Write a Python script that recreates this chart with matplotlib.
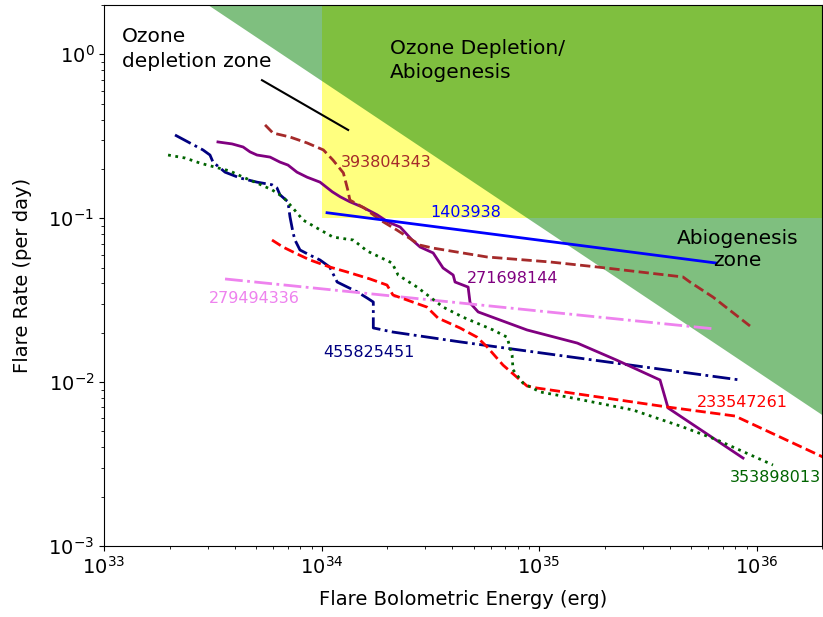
import numpy as np
import matplotlib.pyplot as plt

# Cumulative flare frequency distributions (energy in erg, rate per day)
e_455825451 = [2.12e33, 2.48e33, 2.85e33, 3.07e33, 3.17e33, 3.60e33, 4.22e33, 5.05e33,
               5.92e33, 6.24e33, 6.44e33, 7.01e33, 7.16e33, 7.40e33, 7.55e33, 7.96e33,
               8.85e33, 9.84e33, 1.09e34, 1.18e34, 1.46e34, 1.62e34, 1.73e34, 1.73e34,
               2.13e34, 4.33e34, 1.01e35, 8.40e35]
r_455825451 = [0.322, 0.288, 0.261, 0.243, 0.220, 0.191, 0.176, 0.166,
               0.160, 0.153, 0.139, 0.126, 0.102, 0.0813, 0.0736, 0.0640,
               0.0595, 0.0556, 0.0504, 0.0408, 0.0355, 0.0326, 0.0308, 0.0214,
               0.0202, 0.0176, 0.0151, 0.0103]

e_271698144 = [3.34e33, 3.88e33, 4.36e33, 4.69e33, 5.05e33, 5.80e33, 6.44e33, 7.01e33,
               7.71e33, 8.58e33, 9.84e33, 1.12e34, 1.22e34, 1.35e34, 1.54e34, 1.80e34,
               2.02e34, 2.30e34, 2.61e34, 2.84e34, 3.26e34, 3.62e34, 4.03e34, 4.11e34,
               4.72e34, 4.82e34, 5.25e34, 8.81e34, 1.50e35, 2.28e35, 3.60e35, 3.92e35,
               8.67e35]
r_271698144 = [0.292, 0.284, 0.272, 0.254, 0.243, 0.236, 0.220, 0.211,
               0.191, 0.178, 0.166, 0.145, 0.135, 0.126, 0.117, 0.105,
               0.0949, 0.0883, 0.0736, 0.0667, 0.0614, 0.0497, 0.0450, 0.0408,
               0.0380, 0.0304, 0.0268, 0.0208, 0.0173, 0.0136, 0.0103, 0.00695,
               0.00344]

e_393804343 = [5.50e33, 5.98e33, 7.16e33, 8.58e33, 1.02e34, 1.13e34, 1.26e34, 1.32e34,
               1.35e34, 1.58e34, 1.86e34, 2.22e34, 2.84e34, 3.26e34, 5.77e34, 1.12e35,
               1.85e35, 4.59e35, 4.94e35, 6.31e35, 9.33e35]
r_393804343 = [0.371, 0.331, 0.313, 0.288, 0.261, 0.226, 0.189, 0.149,
               0.129, 0.115, 0.0975, 0.0847, 0.0685, 0.0657, 0.0580, 0.0541,
               0.0504, 0.0438, 0.0408, 0.0330, 0.0220]

e_1403938 = [1.06e34, 6.51e35]
r_1403938 = [0.108, 0.0533]

e_279494336 = [3.60e33, 6.44e35]
r_279494336 = [0.0426, 0.0211]

e_233547261 = [5.92e33, 6.65e33, 7.55e33, 8.85e33, 1.09e34, 1.31e34, 1.67e34, 2.00e34,
               2.13e34, 3.05e34, 3.43e34, 4.33e34, 5.19e34, 5.77e34, 6.83e34, 8.81e34,
               9.79e34, 3.88e35, 7.96e35, 2.02e36]
r_233547261 = [0.0736, 0.0667, 0.0614, 0.0556, 0.0504, 0.0470, 0.0426, 0.0391,
               0.0340, 0.0287, 0.0246, 0.0214, 0.0188, 0.0164, 0.0127, 0.00946,
               0.00920, 0.00705, 0.00621, 0.00349]

e_353898013 = [1.97e33, 2.36e33, 2.76e33, 3.24e33, 3.80e33, 4.36e33, 5.05e33, 5.92e33,
               6.65e33, 7.40e33, 8.22e33, 9.53e33, 1.13e34, 1.40e34, 1.62e34, 2.11e34,
               2.25e34, 2.75e34, 3.62e34, 4.47e34, 6.15e34, 7.13e34, 7.52e34, 7.59e34,
               8.44e34, 1.01e35, 1.35e35, 2.70e35, 4.59e35, 6.58e35, 1.19e36]
r_353898013 = [0.243, 0.233, 0.217, 0.205, 0.194, 0.178, 0.164, 0.149,
               0.135, 0.115, 0.0975, 0.0871, 0.0767, 0.0736, 0.0631, 0.0533,
               0.0450, 0.0380, 0.0287, 0.0249, 0.0208, 0.0188, 0.0146, 0.0119,
               0.00986, 0.00871, 0.00811, 0.00676, 0.00532, 0.00444, 0.00312]

# Zone boundaries
ozone_energy = 1e34       # minimum flare energy for ozone depletion
abio_rate = 0.1           # minimum flare rate for abiogenesis (per day)
abio_norm = 0.69          # rate of the abiogenesis boundary at 1e34 erg
abio_slope = -0.886

fig, ax = plt.subplots(figsize=(8.23, 6.17), dpi=100)
fig.subplots_adjust(left=0.1264, right=0.9988, bottom=0.1151, top=0.9919)

# shaded zones
ax.fill_between([ozone_energy, 1e37], abio_rate, 10, color='yellow', alpha=0.5, lw=0, zorder=0)
e_grid = np.logspace(32, 37, 200)
ax.fill_between(e_grid, abio_norm * (e_grid / 1e34) ** abio_slope, 10,
                color='green', alpha=0.5, lw=0, zorder=0)

lw = 2
ax.plot(e_455825451, r_455825451, color='navy', ls='-.', lw=lw)
ax.plot(e_271698144, r_271698144, color='purple', ls='-', lw=lw)
ax.plot(e_393804343, r_393804343, color='brown', ls='--', lw=lw)
ax.plot(e_1403938, r_1403938, color='blue', ls='-', lw=lw)
ax.plot(e_279494336, r_279494336, color='violet', ls='-.', lw=lw)
ax.plot(e_233547261, r_233547261, color='red', ls='--', lw=lw)
ax.plot(e_353898013, r_353898013, color='darkgreen', ls=':', lw=lw)

ax.set_xscale('log')
ax.set_yscale('log')
ax.set_xlim(1e33, 2e36)
ax.set_ylim(1e-3, 2)
ax.set_xlabel('Flare Bolometric Energy (erg)', fontsize=14, labelpad=9)
ax.set_ylabel('Flare Rate (per day)', fontsize=14, labelpad=12)
ax.tick_params(labelsize=14)

# curve labels
lab = dict(transform=ax.transAxes, fontsize=11.5, va='center', ha='left')
ax.text(0.330, 0.708, '393804343', color='brown', **lab)
ax.text(0.454, 0.616, '1403938', color='blue', **lab)
ax.text(0.506, 0.495, '271698144', color='purple', **lab)
ax.text(0.146, 0.458, '279494336', color='violet', **lab)
ax.text(0.305, 0.357, '455825451', color='navy', **lab)
ax.text(0.826, 0.266, '233547261', color='red', **lab)
ax.text(0.872, 0.126, '353898013', color='darkgreen', **lab)

# zone labels
ax.text(0.025, 0.960, 'Ozone\ndepletion zone', transform=ax.transAxes,
        fontsize=14.5, va='top', ha='left', linespacing=1.45)
ax.text(0.398, 0.937, 'Ozone Depletion/\nAbiogenesis', transform=ax.transAxes,
        fontsize=14.5, va='top', ha='left', linespacing=1.3)
ax.text(0.882, 0.586, 'Abiogenesis\nzone', transform=ax.transAxes,
        fontsize=14.5, va='top', ha='center', linespacing=1.2)
ax.plot([0.220, 0.340], [0.861, 0.769], color='k', lw=1.5, transform=ax.transAxes)

plt.savefig('out.png', dpi=100)
